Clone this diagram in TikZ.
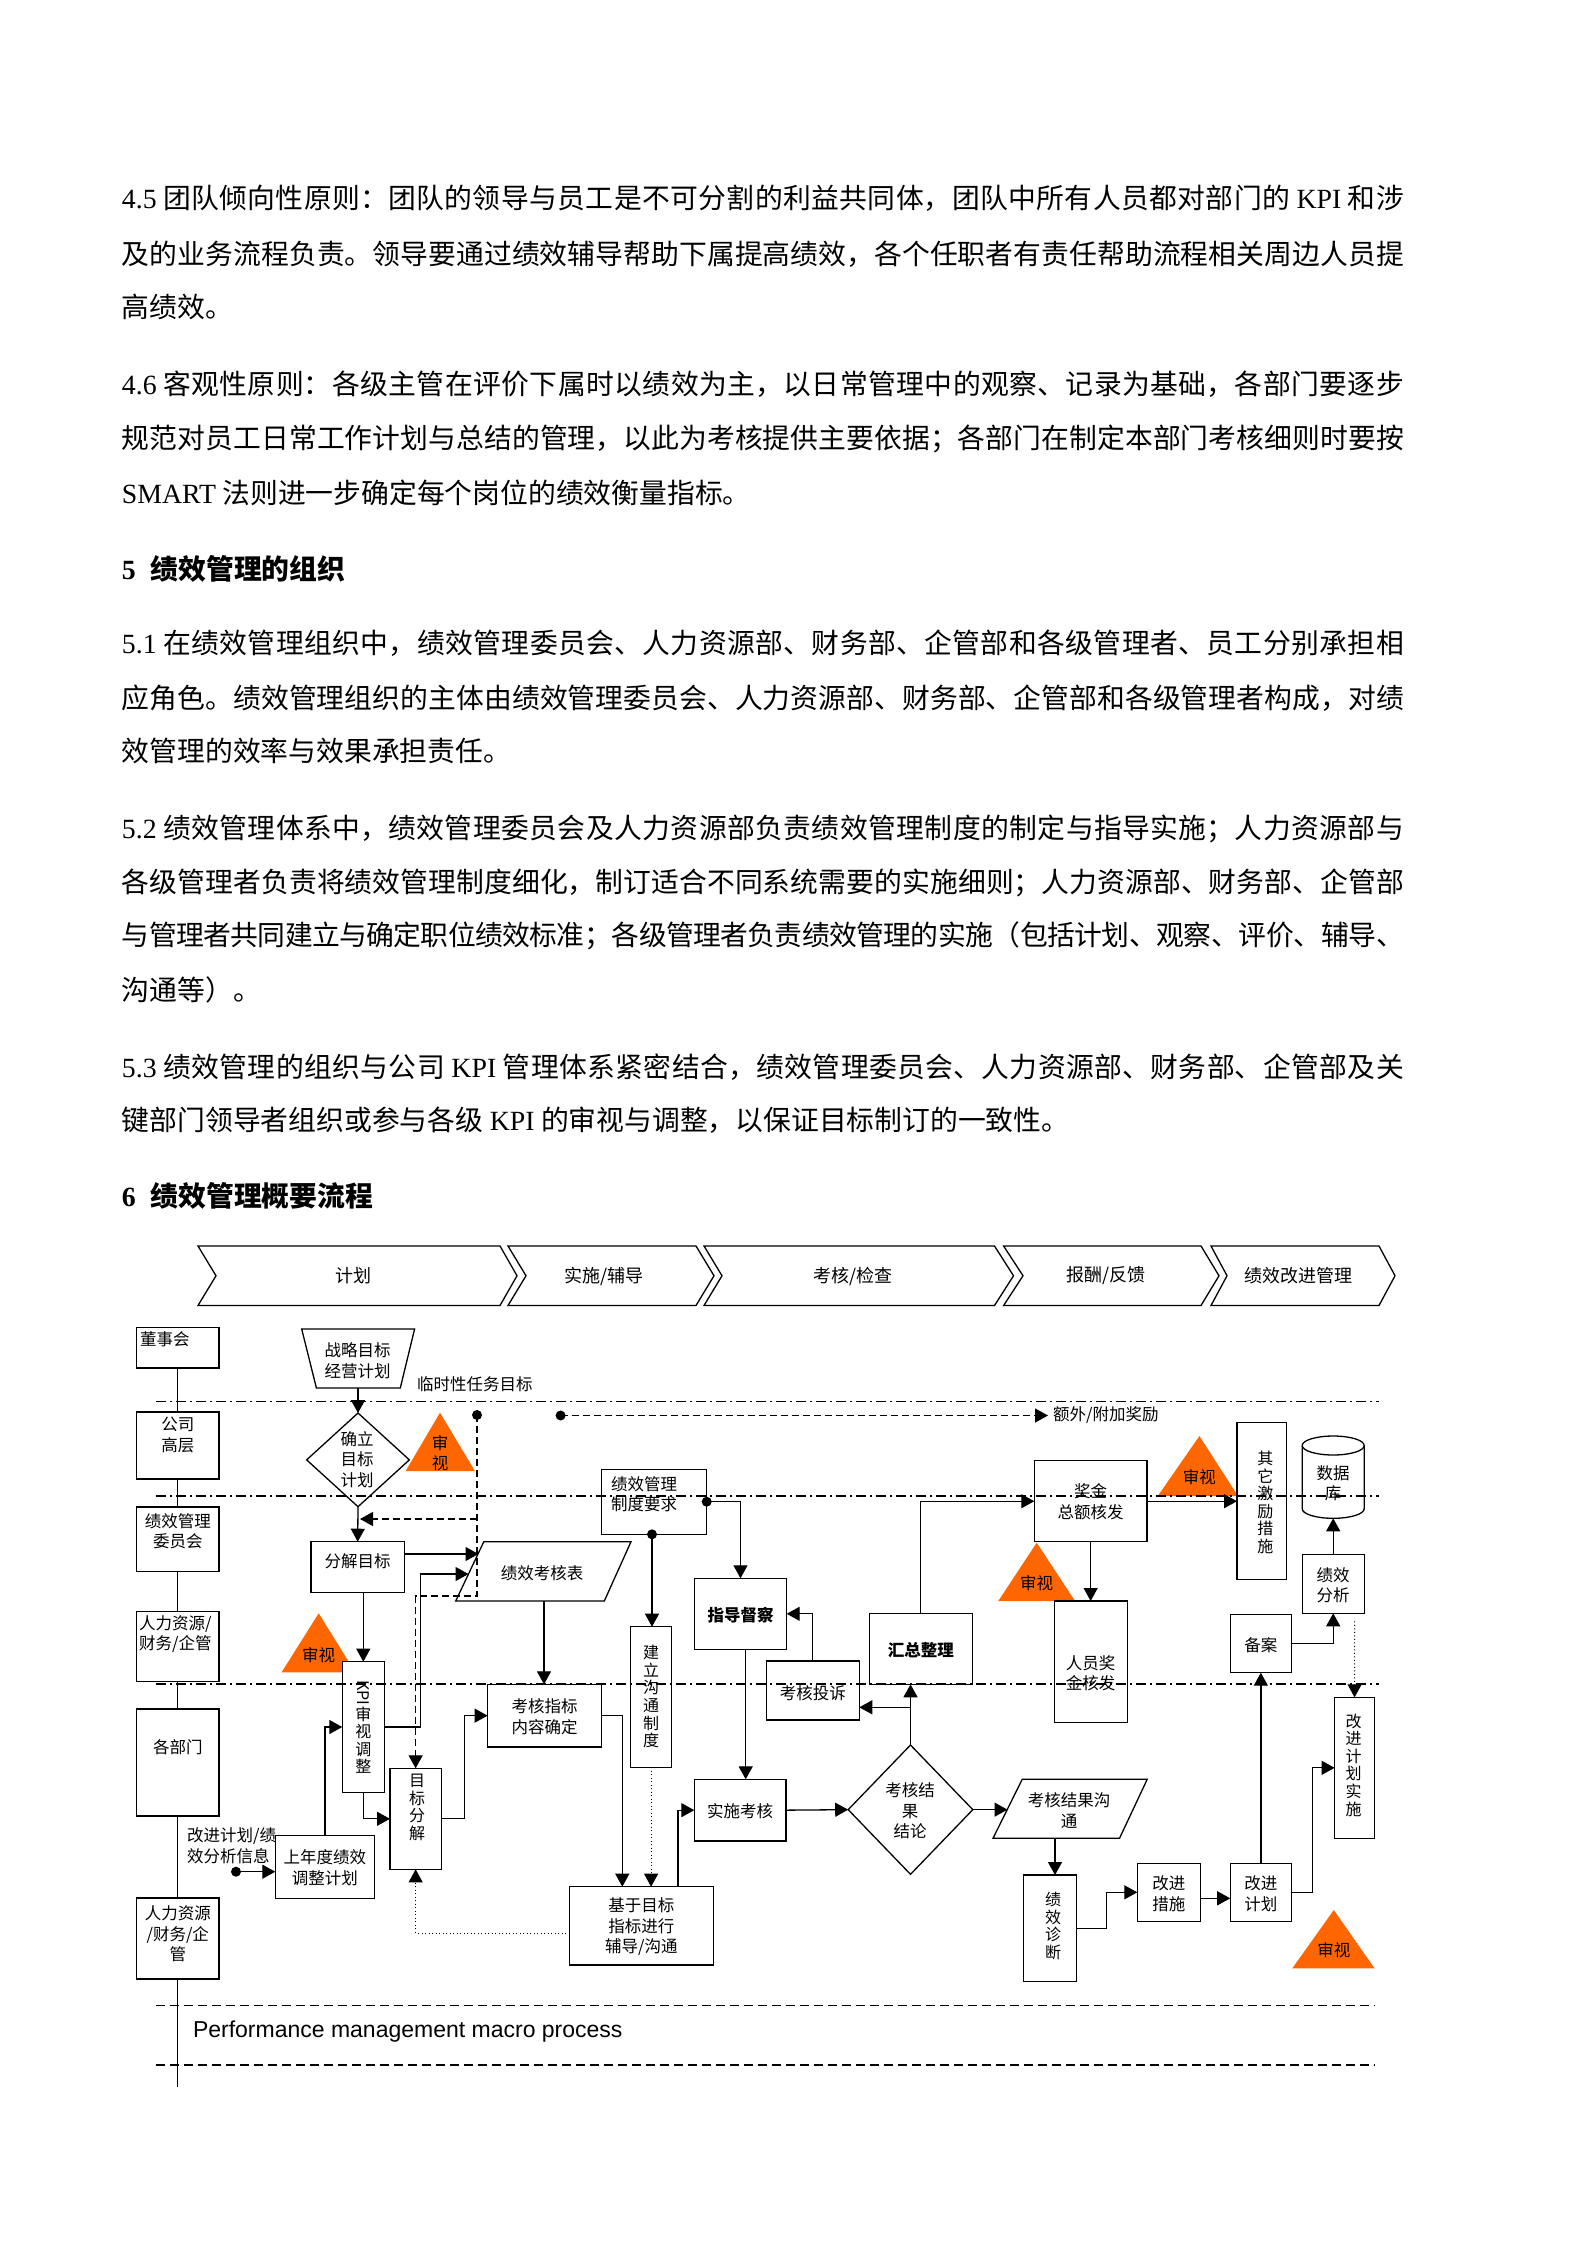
\documentclass[tikz,border=0pt]{standalone}
\usepackage{fontspec}
\usepackage{graphicx}
\setmainfont{Noto Sans CJK SC}
\newfontfamily\tnr{Liberation Serif}
\newfontfamily\arl{Liberation Sans}
\usetikzlibrary{arrows.meta,shapes.geometric,fit}
\XeTeXlinebreaklocale "zh"
\XeTeXlinebreakskip=0pt plus 3pt minus 2pt
\definecolor{rvw}{HTML}{FF6600}
\newcommand\bodyf{\fontsize{27.8}{30}\selectfont}
\newcommand\dgf{\fontsize{16.5}{20.5}\selectfont}
\newcommand\vtf{\fontsize{16}{17.6}\selectfont}
\newcommand\gsp{\nobreak\hspace{6.5pt}\nobreak}
\newcommand\jbox[1]{\vbox{\hsize=1282pt\parindent=0pt\parfillskip=0pt\leftskip=0pt\rightskip=0pt\XeTeXlinebreakpenalty=10000\relax\noindent #1\par}}
\newcommand\jl[3]{\node[anchor=base west, inner sep=0pt, font=\bodyf] (#1) at (121.7,#2) {\jbox{#3}};}
\newcommand\nl[3]{\node[anchor=base west, inner sep=0pt, font=\bodyf] (#1) at (121.7,#2) {#3};}
\newcommand\rb[5]{\node[bx, fit={(#2,#3) (#4,#5)}] (#1) {};}
\begin{document}
\begin{tikzpicture}[x=1pt,y=-1pt,
  bx/.style={draw, line width=1.3pt, fill=white, inner sep=0pt, outer sep=0pt},
  tx/.style={font=\dgf, align=center, inner sep=0pt},
  vt/.style={font=\vtf, align=center, inner sep=0pt},
  con/.style={line width=1.3pt, -{Triangle[length=13pt,width=14pt]}},
  dcon/.style={con, dash pattern=on 7pt off 4pt},
  pcon/.style={con, line width=1pt, dash pattern=on 1pt off 2.5pt},
  blob/.style={circle, fill, inner sep=0pt, minimum size=10pt},
  chv/.style={draw, line width=1.3pt},
  dd/.style={dash pattern=on 10pt off 4pt on 2pt off 4pt},
  chl/.style={font=\fontsize{18}{20}\selectfont, inner sep=0pt}]
\useasboundingbox (0,0) rectangle (1587,2245);
\fill[white] (0,0) rectangle (1587,2245);

% ---------- body text ----------
\jl{p1}{208.3}{{\tnr 4.5}\gsp 团队倾向性原则：团队的领导与员工是不可分割的利益共同体，团队中所有人员都对部门的\gsp{\tnr KPI}\gsp 和涉}
\jl{p2}{264.1}{及的业务流程负责。领导要通过绩效辅导帮助下属提高绩效，各个任职者有责任帮助流程相关周边人员提}
\nl{p3}{317.1}{高绩效。}
\jl{p4}{394.5}{{\tnr 4.6}\gsp 客观性原则：各级主管在评价下属时以绩效为主，以日常管理中的观察、记录为基础，各部门要逐步}
\jl{p5}{448.9}{规范对员工日常工作计划与总结的管理，以此为考核提供主要依据；各部门在制定本部门考核细则时要按}
\nl{p6}{503.3}{{\tnr SMART}\gsp 法则进一步确定每个岗位的绩效衡量指标。}
\node[anchor=base west, inner sep=0pt, font=\bodyf\bfseries] (h5) at (121.7,579.2) {{\tnr\bfseries 5}\hspace{14.8pt}绩效管理的组织};
\jl{p7}{653.7}{{\tnr 5.1}\gsp 在绩效管理组织中，绩效管理委员会、人力资源部、财务部、企管部和各级管理者、员工分别承担相}
\jl{p8}{708.1}{应角色。绩效管理组织的主体由绩效管理委员会、人力资源部、财务部、企管部和各级管理者构成，对绩}
\nl{p9}{761.1}{效管理的效率与效果承担责任。}
\jl{p10}{838.5}{{\tnr 5.2}\gsp 绩效管理体系中，绩效管理委员会及人力资源部负责绩效管理制度的制定与指导实施；人力资源部与}
\jl{p11}{892.9}{各级管理者负责将绩效管理制度细化，制订适合不同系统需要的实施细则；人力资源部、财务部、企管部}
\jl{p12}{945.9}{与管理者共同建立与确定职位绩效标准；各级管理者负责绩效管理的实施（包括计划、观察、评价、辅导、}
\nl{p13}{1000.3}{沟通等）。}
\jl{p14}{1077.6}{{\tnr 5.3}\gsp 绩效管理的组织与公司\gsp{\tnr KPI}\gsp 管理体系紧密结合，绩效管理委员会、人力资源部、财务部、企管部及关}
\nl{p15}{1130.6}{键部门领导者组织或参与各级\gsp{\tnr KPI}\gsp 的审视与调整，以保证目标制订的一致性。}
\node[anchor=base west, inner sep=0pt, font=\bodyf\bfseries] (h6) at (121.7,1206.6) {{\tnr\bfseries 6}\hspace{14.8pt}绩效管理概要流程};

% ---------- chevrons ----------
\draw[chv] (198,1246) -- (500,1246) -- (517,1275.75) -- (500,1305.5) -- (198,1305.5) -- (216,1275.75) -- cycle;
\draw[chv] (508,1246) -- (696,1246) -- (714,1275.75) -- (696,1305.5) -- (508,1305.5) -- (526,1275.75) -- cycle;
\draw[chv] (704,1246) -- (994.5,1246) -- (1013.5,1275.75) -- (994.5,1305.5) -- (704,1305.5) -- (722,1275.75) -- cycle;
\draw[chv] (1003.6,1246) -- (1201,1246) -- (1219,1275.75) -- (1201,1305.5) -- (1003.6,1305.5) -- (1023,1275.75) -- cycle;
\draw[chv] (1211,1246) -- (1379,1246) -- (1395,1275.75) -- (1379,1305.5) -- (1211,1305.5) -- (1227,1275.75) -- cycle;
\node[chl] (ch1) at (353,1276) {计划};
\node[chl] (ch2) at (604.3,1276) {实施/辅导};
\node[chl] (ch3) at (853,1276) {考核/检查};
\node[chl] (ch4) at (1106.4,1276) {报酬/反馈};
\node[chl] (ch5) at (1298.2,1276) {绩效改进管理};

% ---------- role column ----------
\rb{r1}{136.5}{1327.7}{219}{1368}
\rb{r2}{136.5}{1412}{219}{1479}
\rb{r3}{136.5}{1507}{219}{1571.7}
\rb{r4}{136.5}{1611.7}{219}{1681.7}
\rb{r5}{136.5}{1709}{219}{1816}
\rb{r6}{136.5}{1898}{219}{1979}
\coordinate (lend) at (177.75,2087);
\draw[line width=1.2pt] (r1.south) -- (r2.north) (r2.south) -- (r3.north) (r3.south) -- (r4.north)
  (r4.south) -- (r5.north) (r5.south) -- (r6.north) (r6.south) -- (lend);
\node[tx, anchor=west] (r1t) at (140,1339) {董事会};
\node[tx] (r2t) at (177.75,1435) {公司\\高层};
\node[tx] (r3t) at (177.75,1531) {绩效管理\\委员会};
\node[tx, anchor=west, align=left] (r4t) at (139,1634) {人力资源/\\财务/企管};
\node[tx] (r5t) at (177.75,1746.7) {各部门};
\node[tx] (r6t) at (177.75,1934) {人力资源\\/财务/企\\管};

% ---------- planning shapes ----------
\draw[line width=1.3pt, fill=white] (301.7,1329) -- (414.6,1329) -- (400.3,1388) -- (316.4,1388) -- cycle;
\node[tx] (zl) at (357.5,1360.5) {战略目标\\经营计划};
\coordinate (zlb) at (358,1388);
\node[tx, anchor=west] (lsx) at (417,1384) {临时性任务目标};

\node[bx, diamond, minimum width=102.7pt, minimum height=93.7pt] (qd) at (358,1459.85) {};
\node[tx] (qdt) at (357,1459.5) {确立\\目标\\计划};

\fill[rvw] (440,1412.7) -- (474.9,1471) -- (405.7,1471) -- cycle;
\node[tx, font=\fontsize{16.5}{20}\selectfont] (ss1) at (440,1453) {审\\视};

\rb{fj}{311}{1541.7}{404.4}{1592.3}
\node[tx] (fjt) at (357.5,1561) {分解目标};

\draw[line width=1.3pt, fill=white] (483.8,1541.7) -- (631,1541.7) -- (604.3,1601) -- (455.7,1601) -- cycle;
\node[tx] (jx) at (542,1573.3) {绩效考核表};
\coordinate (jxin1) at (478.5,1554);
\coordinate (jxin2) at (468.5,1574);
\coordinate (jxb) at (544,1601);

\rb{zd}{601.7}{1469.3}{706.7}{1534.3}
\node[tx, anchor=west, align=left] (zdt) at (611,1494) {绩效管理\\制度要求};

\fill[rvw] (318.7,1613.3) -- (355.3,1672.3) -- (281.6,1672.3) -- cycle;
\node[tx] (ss2) at (318.7,1655) {审视};

\rb{kpi}{342.3}{1661.7}{384.3}{1792.3}
\node[vt] (kpit) at (363.3,1727) {\rotatebox{-90}{KPI}\\审\\视\\调\\整};

\rb{mbfj}{390}{1768.3}{441.3}{1869.3}
\node[vt] (mbfjt) at (417,1807.5) {目\\标\\分\\解};

\rb{khzb}{487.6}{1684.3}{601.3}{1747}
\node[tx] (khzbt) at (544.5,1716.7) {考核指标\\内容确定};

\rb{jlgt}{630.7}{1626.7}{671.5}{1767.3}
\node[vt] (jlgtt) at (651,1696.5) {建\\立\\沟\\通\\制\\度};

\rb{zddc}{694.3}{1578.3}{786.7}{1649.3}
\node[tx, font=\dgf\bfseries] (zddct) at (740.5,1615) {指导督察};

\rb{sskh}{694.3}{1779.3}{786.1}{1841}
\node[tx] (sskht) at (740,1811) {实施考核};

\rb{jymb}{569.5}{1886.7}{713.3}{1965}
\node[tx] (jymbt) at (641.4,1926.7) {基于目标\\指标进行\\辅导/沟通};

\rb{snd}{275.3}{1835.7}{374.4}{1898.3}
\node[tx] (sndt) at (324.8,1867.5) {上年度绩效\\调整计划};
\node[tx, anchor=west, align=left] (gjxx) at (187,1845.8) {改进计划/绩\\效分析信息};

% ---------- review / reward shapes ----------
\rb{khts}{766.3}{1661}{859.3}{1720}
\node[tx] (khtst) at (812.8,1693) {考核投诉};

\rb{hzzl}{869.3}{1613.3}{972.3}{1684.3}
\node[tx, font=\dgf\bfseries] (hzzlt) at (920.8,1650) {汇总整理};

\node[bx, diamond, minimum width=124.6pt, minimum height=129.3pt] (jg) at (910.5,1809.65) {};
\node[tx] (jgt) at (910,1811) {考核结\\果\\结论};

\rb{jj}{1034.3}{1460.7}{1147}{1541.7}
\node[tx] (jjt) at (1090.6,1501.7) {奖金\\总额核发};

\fill[rvw] (1036.7,1542.7) -- (1075,1601) -- (998.3,1601) -- cycle;
\node[tx] (ss3) at (1036.7,1583) {审视};

\rb{ryjj}{1054.3}{1601}{1127.4}{1722.3}
\node[tx] (ryjjt) at (1090.6,1673) {人员奖\\金核发};

\fill[rvw] (1199.4,1436) -- (1238,1496) -- (1157.8,1496) -- cycle;
\node[tx] (ss4) at (1199.4,1476.7) {审视};

\rb{qt}{1237}{1422.3}{1286.3}{1579.3}
\node[vt] (qtt) at (1265.4,1502.5) {其\\它\\激\\励\\措\\施};

\draw[line width=1.3pt, fill=white] (1302.2,1445.5) -- (1302.2,1508.8)
  arc[start angle=180, end angle=360, x radius=31pt, y radius=9.5pt] -- (1364.2,1445.5);
\draw[line width=1.3pt, fill=white] (1333.2,1445.5) ellipse [x radius=31pt, y radius=9.5pt];
\node[tx] (dbt) at (1333,1483) {数据\\库};
\coordinate (dbb) at (1333.2,1518.3);

\rb{jxfx}{1302.2}{1554.3}{1364.2}{1613.3}
\node[tx] (jxfxt) at (1333.2,1585) {绩效\\分析};

\rb{ba}{1230.2}{1614.3}{1291.5}{1672.7}
\node[tx] (bat) at (1260.8,1645) {备案};

\rb{gjss}{1334.6}{1697.3}{1374.5}{1838.3}
\node[vt] (gjsst) at (1353.6,1765) {改\\进\\计\\划\\实\\施};

\draw[line width=1.3pt, fill=white] (1022.2,1779.3) -- (1147.2,1779.3) -- (1119.5,1838.3) -- (993,1838.3) -- cycle;
\node[tx] (gtjg) at (1069,1810.5) {考核结果沟\\通};
\coordinate (gtin) at (1007.5,1809.65);
\coordinate (gtb) at (1055,1838.3);

\rb{zdd}{1023.4}{1875}{1076.8}{1981.3}
\node[vt] (zddt) at (1053,1926) {绩\\效\\诊\\断};

\rb{gjcs}{1137.3}{1863.3}{1200.5}{1921.3}
\node[tx] (gjcst) at (1168.9,1893.7) {改进\\措施};

\rb{gjjh}{1230.2}{1863.3}{1291.5}{1921.3}
\node[tx] (gjjht) at (1260.8,1893.7) {改进\\计划};

\fill[rvw] (1333.8,1910) -- (1374.5,1968.3) -- (1292.3,1968.3) -- cycle;
\node[tx] (ss5) at (1333.8,1950) {审视};

% ---------- dots and labels ----------
\node[blob] (d1) at (477,1415) {};
\node[blob] (d2) at (560.6,1415.5) {};
\node[blob] (dz1) at (706.7,1501.7) {};
\node[blob] (dz2) at (652,1534.3) {};
\node[blob] (d3) at (236,1871.7) {};
\node[tx, anchor=west] (ew) at (1053,1415.5) {额外/附加奖励};
\coordinate (jgbr) at (910.5,1707.3);

% ---------- connectors ----------
\draw[con] (zlb) -- (qd.north);
\draw[con] (qd.south) -- (fj.north);
\draw[con] (fj.east |- jxin1) -- (jxin1);
\draw[con] (kpi.east) -- ++(36.1,0) |- (jxin2);
\draw[con] (jxb) -- (jxb |- khzb.north);
\draw[con] (kpi.north |- fj.south) -- (kpi.north);
\draw[con] (snd.north) |- (kpi.west);
\draw[con] (kpi.south) |- (mbfj.west);
\draw[con] (mbfj.east) -- ++(23.4,0) |- (khzb.west);
\draw[con] (khzb.east) -| ([xshift=-19.1pt]jymb.north);
\draw[con] (dz2.center) -- (dz2.center |- jlgt.north);
\draw[con] (dz1.center) -| (zddc.north);
\draw[pcon] (jlgt.south) -- (jlgt.south |- jymb.north);
\draw[con] ([xshift=5.2pt]zddc.south) -- ([xshift=5.5pt]sskh.north);
\draw[con] (khts.north) |- (zddc.east);
\draw[con] ([xshift=36.6pt]jymb.north) |- (sskh.west);
\draw[con] (sskh.east) -- (jg.west);
\draw[con] (jg.north) -- (jg.north |- hzzl.south);
\draw[con] (jgbr) -- (khts.east |- jgbr);
\draw[con] (hzzl.north) |- (jj.west);
\draw[con] (jj.south) -- (jj.south |- ryjj.north);
\draw[con] (jj.east) -- (qt.west |- jj.east);
\draw[con] (jxfx.north) -- (dbb);
\draw[con] (ba.east) -| (jxfx.south);
\draw[pcon] ([xshift=21.5pt,yshift=-8pt]jxfx.south) -- (gjss.north);
\draw[con] (jg.east) -- (gtin);
\draw[con] (gtb) -- (gtb |- zdd.north);
\draw[con] (zdd.east) -- ++(29.6,0) |- (gjcs.west);
\draw[con] ([yshift=-6pt]gjcs.east) -- ([yshift=-6pt]gjjh.west);
\draw[con] (gjjh.north) -- (ba.south);
\draw[con] (gjjh.east) -- ++(21.3,0) |- (gjss.west);
\draw[dcon] (d1.center) -- (d1.center |- 0,1596) -| (mbfj.north);
\draw[dcon, shorten >=2pt] (d1.center |- 0,1519) -- (qd.south |- 0,1519);
\draw[dcon, shorten >=5pt] (d2.center) -- (ew.west);
\draw[pcon] (jymb.west |- 0,1933) -| (mbfj.south);
\draw[con] (d3.center) -- (snd.west |- d3);

% ---------- swimlane separators ----------
\draw[dd, line width=1pt] (155.7,1401.7) -- (1379,1401.7);
\draw[dd, line width=1.8pt] (155.7,1496) -- (1379,1496);
\draw[dd, line width=1.8pt] (155.7,1684.3) -- (1379,1684.3);
\draw[line width=1.3pt, dash pattern=on 9pt off 5pt] (155.7,2005.7) -- (1375,2005.7);
\draw[line width=1.3pt, dash pattern=on 9pt off 5pt] (155.7,2065) -- (1375,2065);
\node[anchor=west, inner sep=0pt, font=\arl\fontsize{23}{26}\selectfont] (pm) at (192.8,2032) {Performance management macro process};
\end{tikzpicture}
\end{document}
